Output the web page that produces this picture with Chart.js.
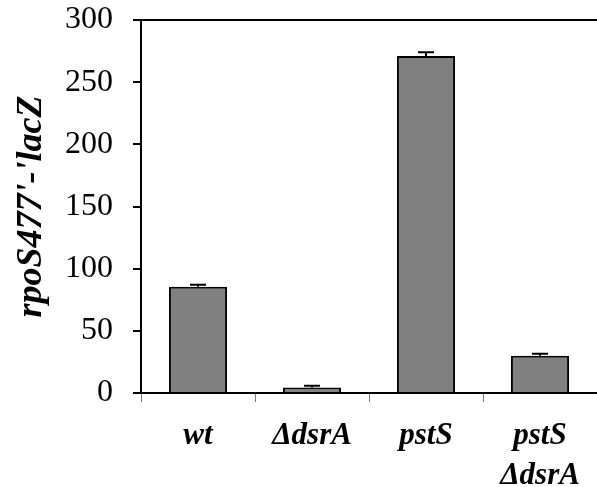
<!DOCTYPE html>
<html>
<head>
<meta charset="utf-8">
<script src="https://cdn.jsdelivr.net/npm/chart.js@4"></script>
<style>
  html, body { margin: 0; padding: 0; background: #fff; }
  #wrap { width: 597px; height: 487px; }
</style>
</head>
<body>
<div id="wrap"><canvas id="chart"></canvas></div>
<script>
// ─── Data ────────────────────────────────────────────────────────────────────

const strains = [["wt"], ["\u0394dsrA"], ["pstS"], ["pstS", "\u0394dsrA"]];
const activity = [85.5, 4.5, 271, 30];
const errors = [1.5, 1.3, 3, 1.5];
const yTicks = [0, 50, 100, 150, 200, 250, 300];

const serif = "'Liberation Serif', 'Times New Roman', serif";

// ─── Error bars (upper whisker only, as in the figure) ─────────────────────

const errorBars = {
  id: "errorBars",
  afterDatasetsDraw(chart) {
    const { ctx } = chart;
    const y = chart.scales.y;
    const meta = chart.getDatasetMeta(0);
    ctx.save();
    ctx.strokeStyle = "#000";
    ctx.lineWidth = 2;
    meta.data.forEach((bar, i) => {
      const top = y.getPixelForValue(activity[i] + errors[i]);
      const base = y.getPixelForValue(activity[i]);
      ctx.beginPath();
      ctx.moveTo(bar.x, base);
      ctx.lineTo(bar.x, top);
      ctx.moveTo(bar.x - 8, top);
      ctx.lineTo(bar.x + 8, top);
      ctx.stroke();
    });
    ctx.restore();
  },
};

new Chart(document.getElementById("chart"), {
  type: "bar",
  data: {
    labels: strains,
    datasets: [
      {
        data: activity,
        backgroundColor: "#808080",
        borderColor: "#000",
        borderWidth: 2,
        borderSkipped: "bottom",
        barPercentage: 0.51,
        categoryPercentage: 1,
      },
    ],
  },
  options: {
    responsive: true,
    maintainAspectRatio: false,
    animation: false,
    layout: { padding: { top: 20, right: 0, left: 0, bottom: 0 } },
    plugins: { legend: { display: false }, tooltip: { enabled: false } },
    scales: {
      x: {
        offset: true,
        border: { color: "#000", width: 2 },
        grid: {
          offset: true,
          drawOnChartArea: false,
          tickLength: 9,
          tickColor: "#777",
          lineWidth: 1,
        },
        ticks: {
          color: "#000",
          padding: 14,
          maxRotation: 0,
          font: { family: serif, size: 31, weight: "bold", style: "italic", lineHeight: 1.3 },
        },
        afterFit: (s) => {
          s.height = 94;
          s.paddingLeft = 0;
          s.paddingRight = 0;
        },
      },
      y: {
        min: 0,
        max: 300,
        afterBuildTicks: (s) => { s.ticks = yTicks.map((v) => ({ value: v })); },
        border: { color: "#000", width: 2 },
        grid: {
          color: (c) => (c.tick && c.tick.value === 300 ? "#000" : "rgba(0,0,0,0)"),
          lineWidth: 2,
          tickColor: "#000",
          tickLength: 8,
        },
        ticks: {
          color: "#000",
          padding: 20,
          font: { family: serif, size: 32 },
        },
        title: {
          display: true,
          text: "rpoS477'-'lacZ",
          color: "#000",
          padding: { top: 10, bottom: 0 },
          font: { family: serif, size: 36, weight: "bold", style: "italic" },
        },
        afterFit: (s) => {
          s.width = 141;
          s.paddingTop = 0;
          s.paddingBottom = 0;
        },
      },
    },
  },
  plugins: [errorBars],
});
</script>
</body>
</html>
